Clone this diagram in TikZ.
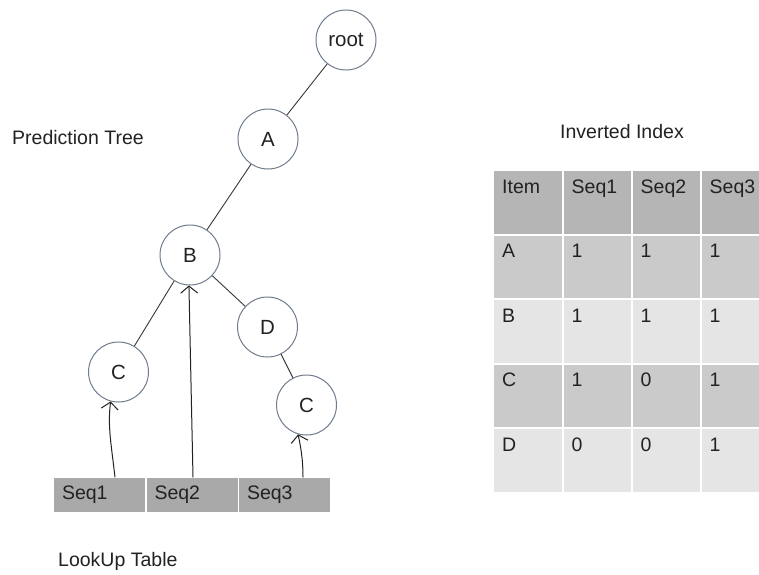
\documentclass[tikz,border=0pt]{standalone}
\usepackage{fontspec}
\setmainfont{Liberation Sans}
\usetikzlibrary{arrows.meta,calc}
\definecolor{ink}{HTML}{222222}
\definecolor{ring}{HTML}{6F7C8C}
\definecolor{lookup}{HTML}{A9A9A9}
\definecolor{hdr}{HTML}{B5B5B5}
\definecolor{dark}{HTML}{CACACA}
\definecolor{light}{HTML}{E5E5E5}
\tikzset{
  treenode/.style={circle, draw=ring, line width=1pt, fill=white, minimum size=60pt,
    inner sep=0pt, text=ink, font=\fontsize{20.5}{23}\selectfont},
  treeedge/.style={draw=ink!90, line width=0.9pt},
  lookcell/.style={rectangle, fill=lookup, minimum width=91pt, minimum height=34pt,
    text width=75pt, inner xsep=8pt, align=left, text=ink, font=\fontsize{19.5}{22}\selectfont},
  pointer/.style={draw=ink, line width=1pt, -{Straight Barb[length=7pt,width=17pt]}},
  caption/.style={text=ink, font=\fontsize{19.5}{22}\selectfont, inner sep=0pt},
  celltext/.style={text=ink, font=\fontsize{19.5}{22}\selectfont, inner sep=0pt, anchor=base west}
}
\begin{document}
\begin{tikzpicture}[x=1pt, y=-1pt]
\useasboundingbox[fill=white] (0,0) rectangle (759,574);

% prediction tree
\node[treenode] (root) at (346,40)  {root};
\node[treenode] (A)    at (268,139) {A};
\node[treenode] (B)    at (190,255) {B};
\node[treenode] (D)    at (267.5,327) {D};
\node[treenode] (C1)   at (118.5,372) {C};
\node[treenode] (C2)   at (306.5,405) {C};

\draw[treeedge] (root) -- (A);
\draw[treeedge] (A) -- (B);
\draw[treeedge] (B) -- (C1);
\draw[treeedge] (B) -- (D);
\draw[treeedge] (D) -- (C2);

% lookup table
\node[lookcell] (seq1) at (99.5,494.5)  {Seq1};
\node[lookcell] (seq2) at (192,494.5)   {Seq2};
\node[lookcell] (seq3) at (284.5,494.5) {Seq3};

\draw[pointer] ([xshift=15.5pt]seq1.north) .. controls +(-4,-35) and +(-3,25) .. (C1.255);
\draw[pointer] ([xshift=1pt]seq2.north) -- (B.268);
\draw[pointer] ([xshift=18.5pt]seq3.north) .. controls +(0,-20) and +(2,10) .. (C2.254);

% captions
\node[caption, anchor=west] (ptitle) at (12,138) {Prediction Tree};
\node[caption, anchor=west] (ltitle) at (58,561) {LookUp Table};
\node[caption, anchor=west] (ititle) at (560,132) {Inverted Index};

% inverted index table
\foreach \y/\col/\a/\b/\c/\d in {170/hdr/Item/Seq1/Seq2/Seq3, 234.5/dark/A/1/1/1,
    299/light/B/1/1/1, 363.5/dark/C/1/0/1, 428/light/D/0/0/1}{
  \foreach \x/\t in {493/\a, 562.5/\b, 631.5/\c, 700.5/\d}{
    \fill[\col] (\x+1,\y+1) rectangle +(67.5,62.5);
    \node[celltext] at (\x+9,\y+23) {\t};
  }
}
\end{tikzpicture}
\end{document}
